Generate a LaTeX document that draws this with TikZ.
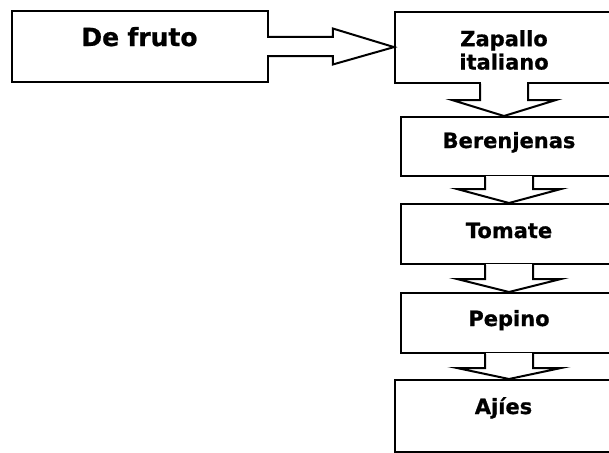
\documentclass[tikz,border=0pt]{standalone}
\usepackage{fontspec}
\setmainfont{DejaVu Sans}[BoldFeatures={FakeBold=0.8}]
\usetikzlibrary{calc}
\tikzset{
  lw/.style={line width=2pt},
  boxnode/.style={draw, lw, rectangle, anchor=north west, inner sep=0pt, align=center,
    font=\fontsize{21}{23.3}\selectfont\bfseries},
  bigbox/.style={boxnode, font=\fontsize{25}{28}\selectfont\bfseries},
  arrowline/.style={draw, lw, line join=miter},
}
\newcommand\blockdown[3]{%
  \fill[white] ($(#1.south)+(-23,-1.2)$) rectangle ($(#1.south)+(23,1.2)$);
  \draw[arrowline] ($(#1.south)+(-24,0)$) -- ($(#1.south)+(-24,#3)$) -- ($(#1.south)+(-52,#3)$)
    -- (#1.south |- #2.north) -- ($(#1.south)+(52,#3)$) -- ($(#1.south)+(24,#3)$) -- ($(#1.south)+(24,0)$);
}
\begin{document}
\begin{tikzpicture}[x=1pt,y=-1pt]
\useasboundingbox (0,0) rectangle (609,452);
\clip (0,0) rectangle (609,452);
\node[bigbox, text width=256pt, text height=35pt, text depth=36pt] (fruto) at (10.5,10) {De fruto};
\node[boxnode, text width=218pt, text height=34.5pt, text depth=36.3pt] (zap) at (394,10.7) {Zapallo\\italiano};
\node[boxnode, text width=216pt, text height=31pt, text depth=28pt] (ber) at (400,116) {Berenjenas};
\node[boxnode, text width=216pt, text height=34pt, text depth=26pt] (tom) at (400,203) {Tomate};
\node[boxnode, text width=216pt, text height=33pt, text depth=27pt] (pep) at (400,292) {Pepino};
\node[boxnode, text width=217pt, text height=34pt, text depth=38pt] (aji) at (394,379) {Ajíes};
% horizontal block arrow
\fill[white] ($(fruto.east)+(-1.2,-8.5)$) rectangle ($(fruto.east)+(1.2,8.5)$);
\draw[arrowline] ($(fruto.east)+(0,-9.5)$) -- ($(fruto.east)+(64.3,-9.5)$) -- ($(fruto.east)+(64.3,-18)$)
  -- (zap.west) -- ($(fruto.east)+(64.3,18)$) -- ($(fruto.east)+(64.3,9.5)$) -- ($(fruto.east)+(0,9.5)$);
% vertical block arrows
\blockdown{zap}{ber}{16.5}
\blockdown{ber}{tom}{12}
\blockdown{tom}{pep}{14}
\blockdown{pep}{aji}{14}
\end{tikzpicture}
\end{document}
